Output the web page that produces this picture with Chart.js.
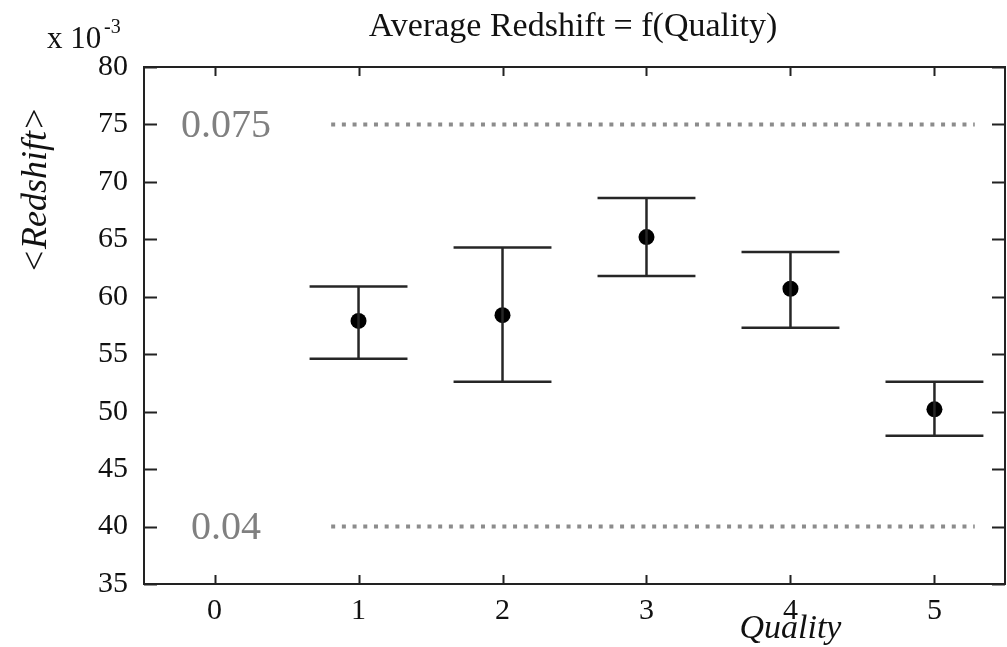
<!DOCTYPE html>
<html lang="en">
<head>
<meta charset="UTF-8">
<title>Average Redshift = f(Quality)</title>
<script src="https://cdn.jsdelivr.net/npm/chart.js"></script>
<style>
  body { margin: 0; background: #fff; overflow: hidden; }
  canvas { display: block; }
</style>
</head>
<body>
<canvas id="zChart" width="1007" height="647"></canvas>
<script>
// values (y in units of 1e-3)
const qualities = [1, 2, 3, 4, 5];
const meanZ  = [57.9, 58.4, 65.2, 60.7, 50.2];
const upperZ = [60.9, 64.3, 68.6, 63.9, 52.6];
const lowerZ = [54.6, 52.6, 61.8, 57.3, 47.9];
const capHalf = 0.34;

const refLevels = [75, 40];
const refLabels = ['0.075', '0.04'];
const refFrom = 0.81, refTo = 5.28;
const refLabelX = 0.08;

const xTicks = [0, 1, 2, 3, 4, 5];
const yTicks = [35, 40, 45, 50, 55, 60, 65, 70, 75, 80];

const serif = '"Liberation Serif", "DejaVu Serif", serif';
const ink = '#111';

function seg(data, opts) {
  return Object.assign({
    type: 'line', data: data, showLine: true, pointRadius: 0,
    borderColor: '#262626', borderWidth: 2.5, fill: false
  }, opts || {});
}

const datasets = [];
refLevels.forEach(lv => {
  datasets.push(seg([{x: refFrom, y: lv}, {x: refTo, y: lv}],
    {borderColor: '#8c8c8c', borderWidth: 4, borderDash: [4, 6.7], borderCapStyle: 'butt'}));
});
qualities.forEach((q, i) => {
  datasets.push(seg([{x: q, y: lowerZ[i]}, {x: q, y: upperZ[i]}]));
  datasets.push(seg([{x: q - capHalf, y: upperZ[i]}, {x: q + capHalf, y: upperZ[i]}]));
  datasets.push(seg([{x: q - capHalf, y: lowerZ[i]}, {x: q + capHalf, y: lowerZ[i]}]));
});
datasets.push({
  type: 'scatter',
  data: qualities.map((q, i) => ({x: q, y: meanZ[i]})),
  pointRadius: 8, backgroundColor: '#000', borderWidth: 0
});

const framePlugin = {
  id: 'frame',
  beforeDraw(chart) {
    const c = chart.ctx;
    c.save();
    c.fillStyle = '#fff';
    c.fillRect(0, 0, chart.width, chart.height);
    c.restore();
  },
  afterDraw(chart) {
    const c = chart.ctx, a = chart.chartArea;
    const xs = chart.scales.x, ys = chart.scales.y;
    c.save();
    c.strokeStyle = '#222';
    c.lineWidth = 2;
    c.strokeRect(a.left, a.top, a.right - a.left, a.bottom - a.top);

    // inward ticks on all four sides
    c.beginPath();
    xTicks.forEach(v => {
      const px = Math.round(xs.getPixelForValue(v)) + 0.5;
      c.moveTo(px, a.bottom); c.lineTo(px, a.bottom - 9);
      c.moveTo(px, a.top); c.lineTo(px, a.top + 9);
    });
    yTicks.forEach(v => {
      const py = Math.round(ys.getPixelForValue(v)) + 0.5;
      c.moveTo(a.left, py); c.lineTo(a.left + 13, py);
      c.moveTo(a.right, py); c.lineTo(a.right - 13, py);
    });
    c.stroke();

    // reference labels
    c.fillStyle = '#808080';
    c.font = '40px ' + serif;
    c.textAlign = 'center';
    c.textBaseline = 'middle';
    refLevels.forEach((lv, i) => {
      c.fillText(refLabels[i], xs.getPixelForValue(refLabelX), ys.getPixelForValue(lv) + 2);
    });

    // title
    c.fillStyle = ink;
    c.font = '34px ' + serif;
    c.textBaseline = 'alphabetic';
    c.fillText('Average Redshift = f(Quality)', 573, 36);

    // exponent
    c.textAlign = 'left';
    c.font = '31px ' + serif;
    c.fillText('x 10', 47, 48);
    c.font = '20px ' + serif;
    c.fillText('-3', 104, 33);

    // axis titles
    c.font = 'italic 34px ' + serif;
    c.textAlign = 'center';
    c.fillText('Quality', xs.getPixelForValue(4), 638);
    c.translate(46, 190);
    c.rotate(-Math.PI / 2);
    c.font = 'italic 36px ' + serif;
    c.fillText('<Redshift>', 0, 0);
    c.restore();
  }
};

new Chart(document.getElementById('zChart'), {
  type: 'scatter',
  data: { datasets: datasets },
  options: {
    responsive: false,
    devicePixelRatio: 1,
    animation: false,
    layout: { autoPadding: false, padding: { top: 67, right: 2, left: 0, bottom: 0 } },
    plugins: { legend: { display: false }, tooltip: { enabled: false }, title: { display: false } },
    scales: {
      x: {
        type: 'linear', min: -0.49, max: 5.49,
        grid: { display: false, drawTicks: false }, border: { display: false },
        afterBuildTicks: s => { s.ticks = xTicks.map(v => ({value: v})); },
        afterFit: s => { s.height = 63; s.paddingLeft = 0; s.paddingRight = 0; },
        ticks: { color: ink, padding: 9, font: { family: serif, size: 30 }, maxRotation: 0 }
      },
      y: {
        type: 'linear', min: 35, max: 80,
        grid: { display: false, drawTicks: false }, border: { display: false },
        afterBuildTicks: s => { s.ticks = yTicks.map(v => ({value: v})); },
        afterFit: s => { s.width = 144; s.paddingTop = 0; s.paddingBottom = 0; },
        ticks: { color: ink, padding: 16, font: { family: serif, size: 30 } }
      }
    }
  },
  plugins: [framePlugin]
});
</script>
</body>
</html>
